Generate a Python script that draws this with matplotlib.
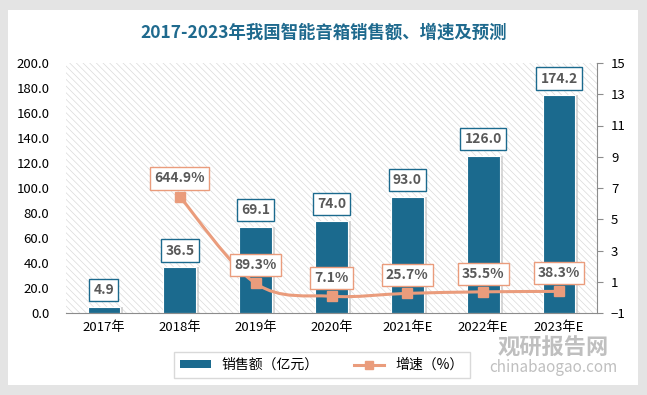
import numpy as np
import matplotlib.pyplot as plt
from matplotlib.path import Path
from matplotlib.patches import PathPatch, Rectangle, Patch
from matplotlib.lines import Line2D

plt.rcParams['font.family'] = ['Noto Sans CJK SC', 'DejaVu Sans']
plt.rcParams['hatch.linewidth'] = 0.5

# data
years = ['2017年', '2018年', '2019年', '2020年', '2021年E', '2022年E', '2023年E']
sales = [4.9, 36.5, 69.1, 74.0, 93.0, 126.0, 174.2]
growth = [644.9, 89.3, 7.1, 25.7, 35.5, 38.3]  # %, starts from 2018

bar_color = '#1B6A8E'
line_color = '#EA9C7C'
text_gray = '#595959'

fig = plt.figure(figsize=(6.47, 3.95), dpi=100)
fig.patch.set_facecolor('#E4E4E4')
# white card
fig.patches.append(Rectangle((8 / 647, 10 / 395), 630 / 647, 375 / 395, transform=fig.transFigure,
                             facecolor='white', edgecolor='none', zorder=-5))

fig.text(0.5, 0.918, '2017-2023年我国智能音箱销售额、增速及预测', ha='center', va='center',
         fontsize=12.5, color='#1F6A8E', fontweight='bold')

ax = fig.add_axes([66 / 647, 82 / 395, 531 / 647, 250 / 395])
ax2 = ax.twinx()

x = np.arange(len(years))
ax.set_xlim(-0.5, len(years) - 0.5)
ax.set_ylim(0, 200)
ax2.set_ylim(-1, 15)

# hatched background
ax.add_patch(Rectangle((0, 0), 1, 1, transform=ax.transAxes, facecolor='white',
                       edgecolor='#DADADA', hatch='\\\\\\\\\\', linewidth=0, zorder=0))

# bar shadows then bars
ax.bar(x + 0.04, sales, width=0.43, color='#BFBFBF', alpha=0.6, zorder=1, linewidth=0)
ax.bar(x, sales, width=0.43, color=bar_color, edgecolor='white', linewidth=0.8, zorder=2)

for xi, v in zip(x, sales):
    ax.annotate(f'{v:.1f}', (xi, v), xytext=(0, 7), textcoords='offset points',
                ha='center', va='bottom', fontsize=10, fontweight='bold', color=text_gray, zorder=5,
                bbox=dict(boxstyle='square,pad=0.3', facecolor='white', edgecolor=bar_color, linewidth=1))

ax.set_yticks(np.arange(0, 201, 20))
ax.set_yticklabels([f'{v:.1f}' for v in np.arange(0, 201, 20)], fontsize=9.5)
ax.set_xticks(x)
ax.set_xticklabels(years, fontsize=9.5)
ax.tick_params(axis='y', length=0, pad=12)
ax.tick_params(axis='x', length=0, pad=6)
for s in ['top', 'left', 'right']:
    ax.spines[s].set_visible(False)
ax.spines['bottom'].set_color('#8C8C8C')

# smooth growth line (Catmull-Rom style bezier through the data points)
gx = x[1:]
gy = np.array(growth) / 100
pts = np.column_stack([gx, gy])
verts = [pts[0]]
codes = [Path.MOVETO]
n = len(pts)
for i in range(n - 1):
    p0 = pts[i - 1] if i > 0 else pts[i]
    p1, p2 = pts[i], pts[i + 1]
    p3 = pts[i + 2] if i + 2 < n else pts[i + 1]
    c1 = p1 + (p2 - p0) / 6
    c2 = p2 - (p3 - p1) / 6
    verts += [c1, c2, p2]
    codes += [Path.CURVE4] * 3
ax2.add_patch(PathPatch(Path(verts, codes), facecolor='none', edgecolor=line_color, linewidth=2.2, zorder=3))
ax2.plot(gx, gy, linestyle='none', marker='s', markersize=7, color=line_color, zorder=4)

for xi, v in zip(gx, growth):
    ax2.annotate(f'{v:.1f}%', (xi, v / 100), xytext=(0, 8), textcoords='offset points',
                 ha='center', va='bottom', fontsize=10, fontweight='bold', color=text_gray, zorder=6,
                 bbox=dict(boxstyle='square,pad=0.3', facecolor='white', edgecolor=line_color, linewidth=1))

ax2.set_yticks(np.arange(-1, 16, 2))
ax2.tick_params(axis='y', labelsize=9.5, length=4, color='#8C8C8C', pad=6)
for s in ['top', 'left', 'bottom']:
    ax2.spines[s].set_visible(False)
ax2.spines['right'].set_color('#8C8C8C')

handles = [Patch(facecolor=bar_color, edgecolor='none'),
           Line2D([0], [0], color=line_color, linewidth=2.2, marker='s', markersize=6)]
fig.legend(handles, ['销售额（亿元）', '增速（%）'], loc='center', bbox_to_anchor=(322 / 647, 30 / 395),
           ncol=2, frameon=True, fancybox=False, edgecolor='#D0D0D0', fontsize=10,
           handlelength=2.2, handleheight=0.5, columnspacing=2.5, borderpad=0.45)

# watermark
fig.text(553 / 647, 47 / 395, '观研报告网', ha='center', va='center', fontsize=16,
         fontweight='bold', color='#B0B0B0', alpha=0.8)
fig.text(553 / 647, 28 / 395, 'chinabaogao.com', ha='center', va='center', fontsize=11,
         color='#B0B0B0', alpha=0.8)

fig.savefig('out.png', dpi=100)
